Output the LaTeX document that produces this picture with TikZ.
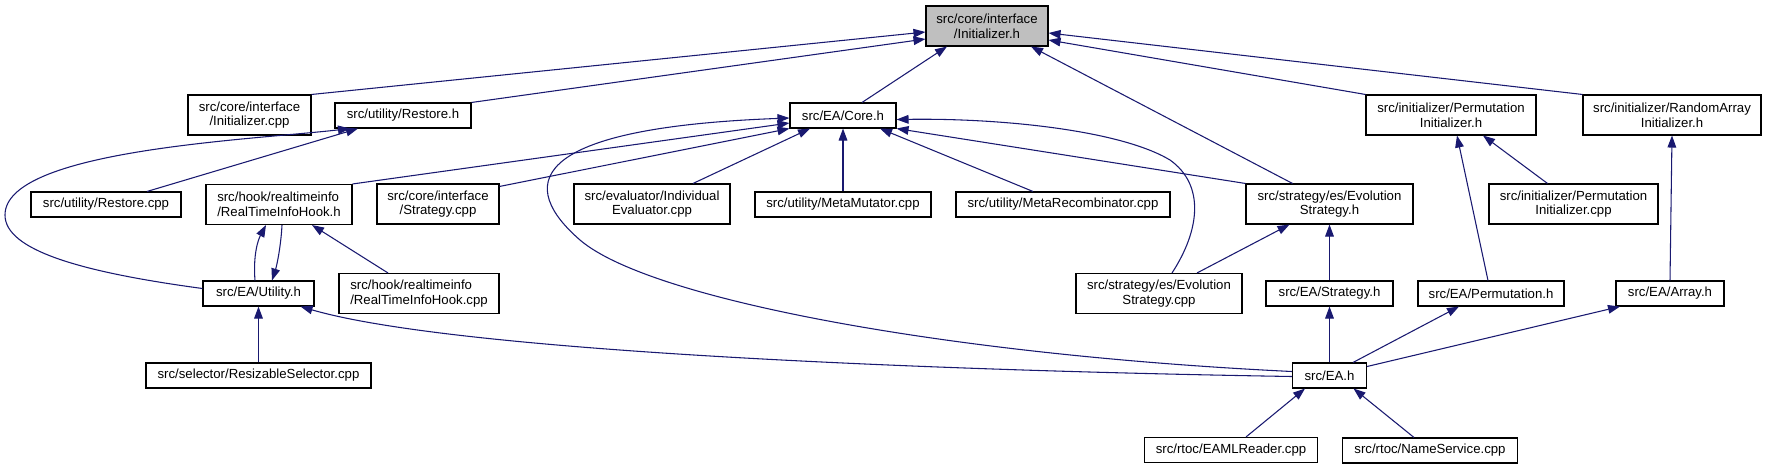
\documentclass[tikz,border=0pt]{standalone}
\usepackage{fontspec}
\setmainfont{Liberation Sans}
\usepackage{xcolor}
\usepackage{tikz}
\usetikzlibrary{arrows.meta, calc}
\definecolor{depblue}{HTML}{191970}
\definecolor{focusgray}{HTML}{BFBFBF}

\begin{document}
\begin{tikzpicture}[
  x=0.75pt, y=-0.75pt,
  file/.style={rectangle, draw=black, fill=white, line width=0.8pt, inner sep=0pt, minimum height=18.75pt, align=center, font=\fontsize{9.9}{11}\selectfont},
  twoline/.style={minimum height=30pt},
  focus/.style={file, fill=focusgray},
  bw/.style={minimum width=#1*0.75pt},
  arrow/.style={draw=depblue, line width=0.8pt, -{Triangle[length=9pt, width=6.5pt]}}
]
\useasboundingbox (0,0) rectangle (1767,469);

% row 0
\node[focus, twoline, bw=122] (ih) at (987,26) {src/core/interface\\/Initializer.h};
% row 1
\node[file, twoline, bw=123] (icpp) at (249.5,115) {src/core/interface\\/Initializer.cpp};
\node[file, bw=136] (rh) at (403,115.5) {src/utility/Restore.h};
\node[file, bw=106] (core) at (843,115.5) {src/EA/Core.h};
\node[file, twoline, bw=170] (pih) at (1451,115) {src/initializer/Permutation\\Initializer.h};
\node[file, twoline, bw=178] (raih) at (1672,115) {src/initializer/RandomArray\\Initializer.h};
% row 2
\node[file, bw=150] (rcpp) at (106,204.5) {src/utility/Restore.cpp};
\node[file, twoline, bw=146, align=left] (rtih) at (279,204.5) {src/hook/realtimeinfo\\/RealTimeInfoHook.h};
\node[file, twoline, bw=122] (scpp) at (438,204) {src/core/interface\\/Strategy.cpp};
\node[file, twoline, bw=156] (iecpp) at (652,204) {src/evaluator/Individual\\Evaluator.cpp};
\node[file, bw=176] (mmcpp) at (843,204.5) {src/utility/MetaMutator.cpp};
\node[file, bw=214] (mrcpp) at (1063,204.5) {src/utility/MetaRecombinator.cpp};
\node[file, twoline, bw=167] (esh) at (1329.5,204) {src/strategy/es/Evolution\\Strategy.h};
\node[file, twoline, bw=169] (picpp) at (1573.5,204) {src/initializer/Permutation\\Initializer.cpp};
% row 3
\node[file, bw=111] (uh) at (258.5,293.5) {src/EA/Utility.h};
\node[file, twoline, bw=160, align=left] (rticpp) at (419,293.5) {src/hook/realtimeinfo\\/RealTimeInfoHook.cpp};
\node[file, twoline, bw=166] (escpp) at (1159,293.5) {src/strategy/es/Evolution\\Strategy.cpp};
\node[file, bw=127] (sh) at (1329.5,293.5) {src/EA/Strategy.h};
\node[file, bw=146] (ph) at (1491,293.5) {src/EA/Permutation.h};
\node[file, bw=108] (ah) at (1670,293.5) {src/EA/Array.h};
% row 4
\node[file, bw=225] (rscpp) at (258.5,375.5) {src/selector/ResizableSelector.cpp};
\node[file, bw=74] (eah) at (1329.5,375.5) {src/EA.h};
% row 5
\node[file, bw=173] (eamlcpp) at (1231,450) {src/rtoc/EAMLReader.cpp};
\node[file, bw=175] (nscpp) at (1430,450.5) {src/rtoc/NameService.cpp};

% includes of Initializer.h
\draw[arrow] (icpp.north east) -- ($(ih.west)+(0,6)$);
\draw[arrow] (rh.north east) -- ($(ih.west)+(0,13)$);
\draw[arrow] ($(core.north)+(19,0)$) -- ($(ih.south)+(-40,0)$);
\draw[arrow] ($(esh.north)+(-37,0)$) -- ($(ih.south)+(44,0)$);
\draw[arrow] (pih.north west) -- ($(ih.east)+(0,14)$);
\draw[arrow] (raih.north west) -- ($(ih.east)+(0,7)$);

% Restore.h
\draw[arrow] ($(rcpp.north)+(41,0)$) -- ($(rh.south)+(-45,0)$);
\draw[arrow] ($(uh.west)+(0,-5)$) .. controls (80,272) and (5,250) .. (5,215)
  .. controls (5,150) and (250,140) .. ($(rh.south)+(-53,0)$);

% Core.h
\draw[arrow] (rtih.north east) -- ($(core.west)+(0,7.5)$);
\draw[arrow] ($(scpp.north east)+(0,3)$) -- (core.south west);
\draw[arrow] ($(iecpp.north)+(41,0)$) -- ($(core.south)+(-33,0)$);
\draw[arrow] (mmcpp.north) -- (core.south);
\draw[arrow] ($(mrcpp.north)+(-30,0)$) -- ($(core.south)+(37,0)$);
\draw[arrow] (esh.north west) -- (core.south east);
\draw[arrow] ($(escpp.north)+(13,0)$) .. controls (1200,230) and (1205,185) .. (1170,160)
  .. controls (1120,130) and (1000,118) .. ($(core.east)+(0,4)$);
\draw[arrow] ($(eah.west)+(0,-4)$) .. controls (950,355) and (650,300) .. (580,240)
  .. controls (520,188) and (520,128) .. ($(core.west)+(0,2.5)$);

% RealTimeInfoHook.h and Utility.h
\draw[arrow] ($(uh.north)+(-3.5,0)$) .. controls (253,255) and (258,240) .. ($(rtih.south)+(-13,0)$);
\draw[arrow] ($(rtih.south)+(3,0)$) .. controls (281,245) and (277,265) .. ($(uh.north)+(13.5,0)$);
\draw[arrow] ($(rticpp.north)+(-31,0)$) -- ($(rtih.south)+(33,0)$);
\draw[arrow] (rscpp.north) -- (uh.south);
\draw[arrow] ($(eah.west)+(0,1)$) .. controls (900,370) and (450,350) .. ($(uh.south east)+(-14,0)$);

% EvolutionStrategy.h
\draw[arrow] ($(escpp.north)+(38,0)$) -- ($(esh.south)+(-40,0)$);
\draw[arrow] (sh.north) -- (esh.south);

% EA.h
\draw[arrow] (eah.north) -- (sh.south);
\draw[arrow] ($(eah.north)+(23.5,0)$) -- ($(ph.south)+(-32,0)$);
\draw[arrow] ($(eah.east)+(0,-9)$) -- ($(ah.south)+(-50,0)$);
\draw[arrow] ($(eamlcpp.north)+(15,0)$) -- ($(eah.south)+(-24.5,0)$);
\draw[arrow] ($(nscpp.north)+(-16,0)$) -- ($(eah.south)+(24,0)$);

% initializers
\draw[arrow] ($(ph.north)+(-3,0)$) -- ($(pih.south)+(6,0)$);
\draw[arrow] ($(picpp.north)+(-26,0)$) -- ($(pih.south)+(32,0)$);
\draw[arrow] (ah.north) -- (raih.south);
\end{tikzpicture}
\end{document}
